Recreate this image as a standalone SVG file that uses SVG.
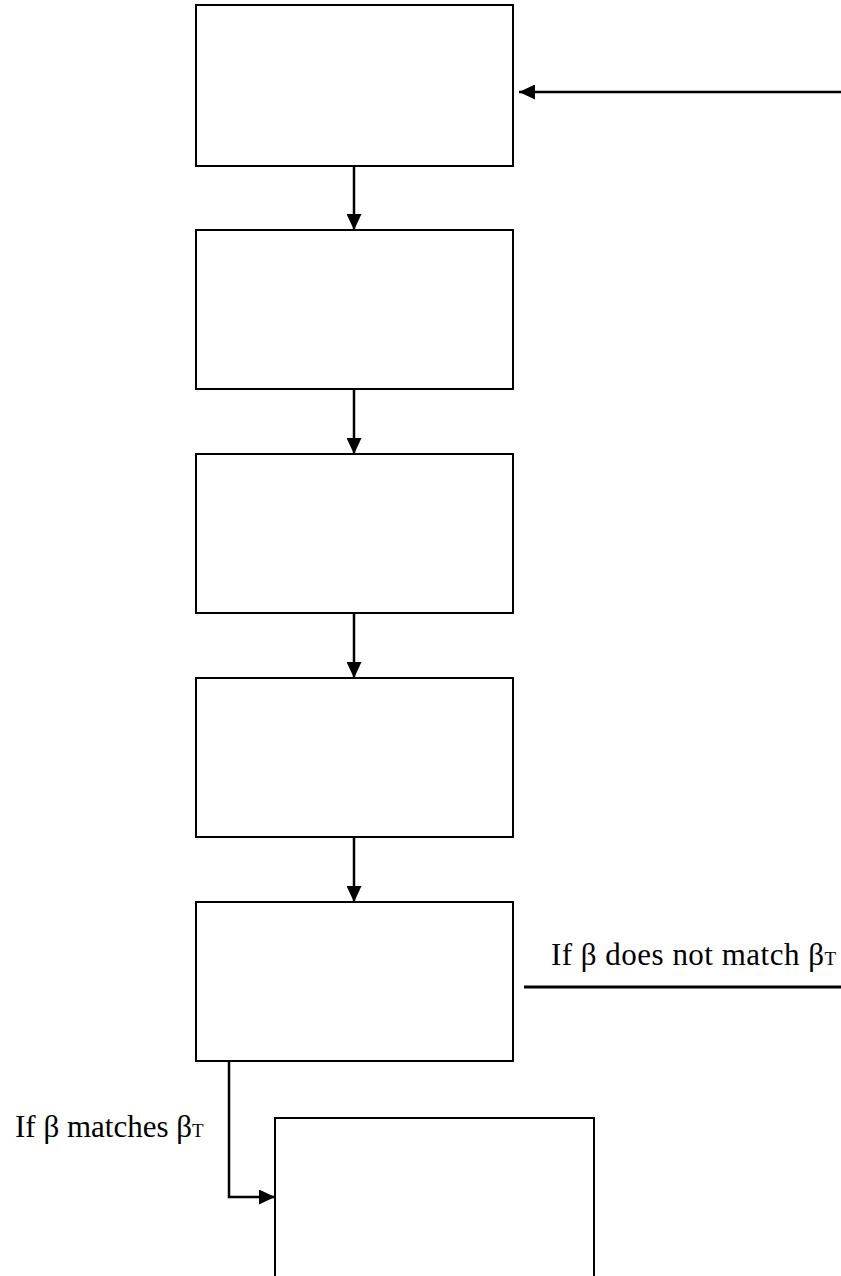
<svg xmlns="http://www.w3.org/2000/svg" width="841" height="1276" viewBox="0 0 841 1276">
<style>
.box{fill:#fff;stroke:#000;stroke-width:2}
.conn{fill:none;stroke:#000;stroke-width:2.5}
.lbl{font-family:"Liberation Serif","Times New Roman",serif;font-size:31px;fill:#000}
</style>
<defs>
<marker id="ah" markerWidth="16" markerHeight="15" refX="16" refY="7.5" orient="auto" markerUnits="userSpaceOnUse">
<path d="M0,0 L16,7.5 L0,15 Z" fill="#000"/>
</marker>
</defs>
<rect width="841" height="1276" fill="#fff"/>
<g id="node1"><rect class="box" x="196" y="5" width="317" height="161"/></g>
<g id="node2"><rect class="box" x="196" y="230" width="317" height="159"/></g>
<g id="node3"><rect class="box" x="196" y="454" width="317" height="159"/></g>
<g id="node4"><rect class="box" x="196" y="678" width="317" height="159"/></g>
<g id="node5"><rect class="box" x="196" y="902" width="317" height="159"/></g>
<g id="node6"><rect class="box" x="275" y="1118" width="319" height="170"/></g>
<g id="connectors">
<line class="conn" x1="354" y1="166" x2="354" y2="230" marker-end="url(#ah)"/>
<line class="conn" x1="354" y1="389" x2="354" y2="454" marker-end="url(#ah)"/>
<line class="conn" x1="354" y1="613" x2="354" y2="678" marker-end="url(#ah)"/>
<line class="conn" x1="354" y1="837" x2="354" y2="902" marker-end="url(#ah)"/>
<line class="conn" x1="841" y1="92" x2="519" y2="92" marker-end="url(#ah)"/>
<line class="conn" x1="524" y1="987" x2="841" y2="987" style="stroke-width:3"/>
<polyline class="conn" points="229,1061 229,1197 275,1197" marker-end="url(#ah)"/>
</g>
<g id="labels">
<text class="lbl" x="551" y="965" textLength="285" lengthAdjust="spacing">If β does not match β<tspan font-size="19">T</tspan></text>
<text class="lbl" x="15" y="1137">If β matches β<tspan font-size="19">T</tspan></text>
</g>
</svg>
